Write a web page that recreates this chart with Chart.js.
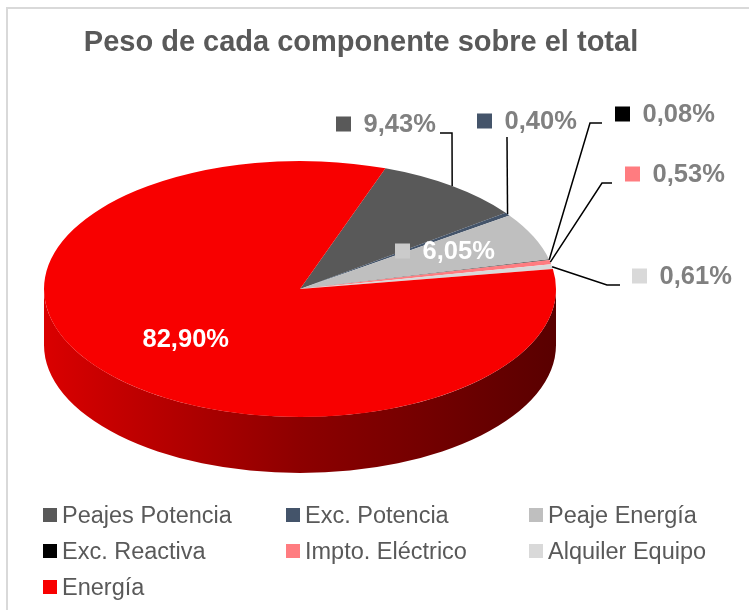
<!DOCTYPE html>
<html><head><meta charset="utf-8">
<script src="https://cdn.jsdelivr.net/npm/chart.js@4"></script>
<style>
html,body{margin:0;padding:0;background:#fff;overflow:hidden;}
#wrap{position:relative;width:749px;height:610px;overflow:hidden;background:#fff;}
#frame{position:absolute;left:6px;top:7px;width:800px;height:700px;border:2px solid #d9d9d9;box-sizing:border-box;}
#c{position:absolute;left:0;top:0;}
.lg{position:absolute;display:flex;align-items:center;height:28px;font-family:'Liberation Sans',Arial,sans-serif;font-size:23.5px;color:#595959;white-space:nowrap;}
.lg i{display:inline-block;width:14px;height:14px;margin-right:5px;}
</style></head>
<body><div id="wrap"><div id="frame"></div><canvas id="c" width="749" height="610"></canvas><div id="legend"></div></div>
<script>
// ---- data ----
const categories = ['Peajes Potencia','Exc. Potencia','Peaje Energía','Exc. Reactiva','Impto. Eléctrico','Alquiler Equipo','Energía'];
const shares = [9.43, 0.40, 6.05, 0.08, 0.53, 0.61, 82.90];
const shareLabels = shares.map(v => v.toFixed(2).replace('.', ',') + '%');
const colors = ['#595959','#44546a','#bfbfbf','#000000','#ff7c80','#d9d9d9','#f80000'];

// ---- layout / style ----
const PIE = {cx:300, cy:289, rx:256, ry:128, depth:56, rotation:19.5};
const LABEL_POS = [
  {key:[336,124], inside:false, leader:[[440,133],[452,133]]},
  {key:[477,121], inside:false, leader:[[507,137]]},
  {key:[395,251], inside:true,  leader:null, keyColor:'#cbcbcb'},
  {key:[615,114], inside:false, leader:[[602,123],[590,123]]},
  {key:[625,174], inside:false, leader:[[612,183],[602,183]]},
  {key:[632,276], inside:false, leader:[[620,285],[607,285]]},
  {key:[115,339], inside:true,  leader:null}
];
const FONT = "'Liberation Sans', Arial, sans-serif";

function shade(hex, f){
  const n = parseInt(hex.slice(1),16);
  const r = Math.round(((n>>16)&255)*f), g = Math.round(((n>>8)&255)*f), b = Math.round((n&255)*f);
  return `rgb(${r},${g},${b})`;
}
function drawSide(ctx, a, b, color){
  const {cx,cy,rx,ry,depth} = PIE;
  ctx.save();
  ctx.beginPath();
  ctx.ellipse(cx,cy,rx,ry,0,a,b,false);
  ctx.lineTo(cx+rx*Math.cos(b), cy+depth+ry*Math.sin(b));
  ctx.ellipse(cx,cy+depth,rx,ry,0,b,a,true);
  ctx.closePath();
  const g = ctx.createLinearGradient(cx-rx,0,cx+rx,0);
  g.addColorStop(0, shade(color,0.88));
  g.addColorStop(0.5, shade(color,0.57));
  g.addColorStop(1, shade(color,0.36));
  ctx.fillStyle = g;
  ctx.fill();
  ctx.restore();
}

const pie3d = {
  id:'pie3d',
  beforeDatasetsDraw(chart){
    const ctx = chart.ctx;
    const meta = chart.getDatasetMeta(0);
    meta.data.forEach((arc,i)=>{
      const {startAngle,endAngle} = arc.getProps(['startAngle','endAngle'], true);
      for(let k=-1;k<=1;k++){
        const a = Math.max(startAngle, 2*Math.PI*k), b = Math.min(endAngle, 2*Math.PI*k+Math.PI);
        if(b>a) drawSide(ctx,a,b,colors[i]);
      }
    });
    const a0 = meta.data[0];
    const R = a0.outerRadius;
    ctx.save();
    ctx.translate(PIE.cx, PIE.cy);
    ctx.scale(PIE.rx/R, PIE.ry/R);
    ctx.translate(-a0.x, -a0.y);
  },
  afterDatasetsDraw(chart){
    const ctx = chart.ctx;
    ctx.restore();
    const meta = chart.getDatasetMeta(0);
    meta.data.forEach((arc,i)=>{
      const {startAngle,endAngle} = arc.getProps(['startAngle','endAngle'], true);
      const mid = (startAngle+endAngle)/2;
      const px = PIE.cx + PIE.rx*Math.cos(mid), py = PIE.cy + PIE.ry*Math.sin(mid);
      const L = LABEL_POS[i];
      if(L.leader){
        ctx.save();
        ctx.strokeStyle = '#000'; ctx.lineWidth = 1.5;
        ctx.beginPath();
        ctx.moveTo(L.leader[0][0], L.leader[0][1]);
        for(let j=1;j<L.leader.length;j++) ctx.lineTo(L.leader[j][0], L.leader[j][1]);
        ctx.lineTo(px, py);
        ctx.stroke();
        ctx.restore();
      }
      ctx.save();
      ctx.fillStyle = L.keyColor || colors[i];
      ctx.fillRect(L.key[0], L.key[1]-7.5, 15, 15);
      ctx.font = `bold 25.5px ${FONT}`;
      ctx.textBaseline = 'middle';
      ctx.fillStyle = L.inside ? '#ffffff' : '#808080';
      ctx.fillText(shareLabels[i], L.key[0]+27.5, L.key[1]+1);
      ctx.restore();
    });
  }
};

new Chart(document.getElementById('c'), {
  type:'pie',
  data:{labels:categories, datasets:[{data:shares, backgroundColor:colors, borderWidth:0, clip:false}]},
  options:{
    responsive:false, animation:false, events:[],
    rotation:PIE.rotation,
    layout:{padding:{right:27}},
    plugins:{
      legend:{display:false}, tooltip:{enabled:false},
      title:{display:true, text:'Peso de cada componente sobre el total', color:'#595959',
        font:{family:FONT, size:29, weight:'bold'}, padding:{top:26, bottom:0}}
    }
  },
  plugins:[pie3d]
});

// legend
const LEG_COLS = [43, 286, 529], LEG_ROWS = [515, 551, 587];
const lg = document.getElementById('legend');
categories.forEach((c,i)=>{
  const d = document.createElement('div');
  d.className = 'lg';
  d.style.left = LEG_COLS[i%3]+'px';
  d.style.top = (LEG_ROWS[Math.floor(i/3)]-14)+'px';
  const sq = document.createElement('i'); sq.style.background = colors[i];
  d.appendChild(sq);
  d.appendChild(document.createTextNode(c));
  lg.appendChild(d);
});
</script>
</body></html>
